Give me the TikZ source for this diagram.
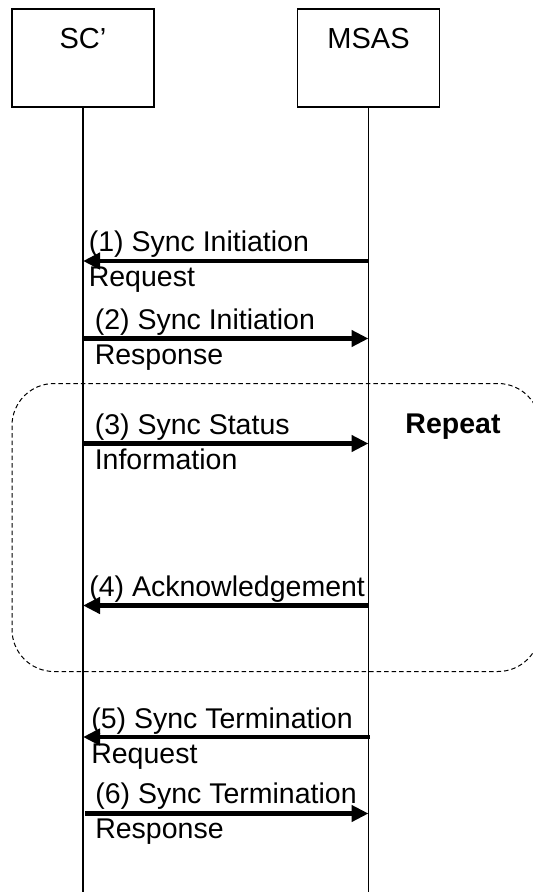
\documentclass[tikz,border=0pt]{standalone}
\usepackage{fontspec}
\setmainfont{Liberation Sans} % 与 Arial 等宽的无衬线字体
\usepackage{tikz}
\usetikzlibrary{
  arrows.meta, % Triangle 箭头
  positioning  % 节点相对定位
}

\begin{document}
\begin{tikzpicture}[x=1pt, y=-1pt, >={Triangle[length=17pt, width=16pt]}, line width=1.6pt] % 以像素为单位，y 轴向下

  \useasboundingbox (0,0) rectangle (533,892); % 固定画布大小与参考图一致

  \tikzset{
    actor/.style={draw, minimum width=142pt, minimum height=98pt, inner sep=0pt}, % 参与者方框
    actorname/.style={inner sep=0pt, anchor=base, font=\fontsize{29}{32}\selectfont}, % 方框内名称
    msg/.style={->, line width=4.5pt}, % 粗消息箭头
    msglabel/.style={inner sep=0pt, align=left, anchor=base west, font=\fontsize{28.5}{35}\selectfont} % 消息文字，基线落在最后一行
  }

  % ======= 参与者 =======
  \node[actor] (sc) at (83,58) {}; % 左侧 SC' 方框
  \node[actor] (msas) at (368.5,58) {}; % 右侧 MSAS 方框
  \node[actorname] (scname) at (83,48) {SC’}; % 名称写在方框上部
  \node[actorname] (msasname) at (368.5,48) {MSAS};

  % ======= 生命线 =======
  \coordinate (scend) at (83,892); % 左生命线底端
  \coordinate (msasend) at (368.5,892); % 右生命线底端
  \draw (sc.south) -- (scend);
  \draw (msas.south) -- (msasend);

  % ======= 重复区域 =======
  \draw[line width=1pt, dash pattern=on 4.5pt off 3pt, rounded corners=42pt] (12,383.5) rectangle (540,671.5); % 右边超出画面
  \node[font=\bfseries\fontsize{28.5}{32}\selectfont, anchor=base] (rep) at (453,433) {Repeat};

  % ======= 消息端点 =======
  \coordinate (s1) at (83,261); \coordinate (m1) at (368.5,261); % (1)
  \coordinate (s2) at (83,338.5); \coordinate (m2) at (368.5,338.5); % (2)
  \coordinate (s3) at (83,443.5); \coordinate (m3) at (368.5,443.5); % (3)
  \coordinate (s4) at (83,605.5); \coordinate (m4) at (368.5,605.5); % (4)
  \coordinate (s5) at (83,737); \coordinate (m5) at (370,737); % (5)
  \coordinate (s6) at (85,813.5); \coordinate (m6) at (368.5,813.5); % (6)

  % ======= 消息箭头 =======
  \draw[msg] (m1) -- (s1); % MSAS 发起请求
  \draw[msg] (s2) -- (m2);
  \draw[msg] (s3) -- (m3);
  \draw[msg] (m4) -- (s4);
  \draw[msg] (m5) -- (s5);
  \draw[msg] (s6) -- (m6);

  % ======= 消息文字：第一行在箭头上方，第二行在下方 =======
  \node[msglabel] (l1) at (88,286.5) {(1) Sync Initiation\\Request};
  \node[msglabel] (l2) at (94,364) {(2) Sync Initiation\\Response};
  \node[msglabel] (l3) at (94,469) {(3) Sync Status\\Information};
  \node[msglabel] (l4) at (88.5,596.5) {(4) Acknowledgement}; % 只有一行
  \node[msglabel] (l5) at (90.5,763) {(5) Sync Termination\\Request};
  \node[msglabel] (l6) at (94.5,838.5) {(6) Sync Termination\\Response};

\end{tikzpicture}
\end{document}
